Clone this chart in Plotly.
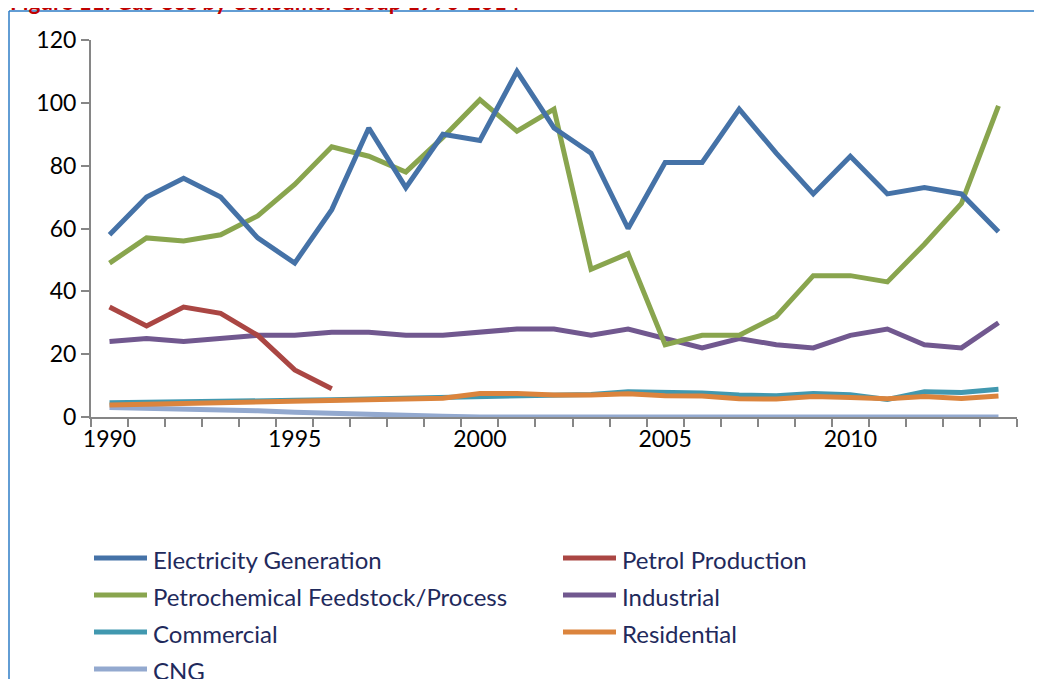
import plotly.graph_objects as go

years = list(range(1990, 2015))
electricity = [58, 70, 76, 70, 57, 49, 66, 92, 73, 90, 88, 110, 92, 84, 60, 81, 81, 98, 84, 71, 83, 71, 73, 71, 59]
petrol = [35, 29, 35, 33, 26, 15, 9]
petrochem = [49, 57, 56, 58, 64, 74, 86, 83, 78, 89, 101, 91, 98, 47, 52, 23, 26, 26, 32, 45, 45, 43, 55, 68, 99]
industrial = [24, 25, 24, 25, 26, 26, 27, 27, 26, 26, 27, 28, 28, 26, 28, 25, 22, 25, 23, 22, 26, 28, 23, 22, 30]
commercial = [4.5, 4.6, 4.7, 4.9, 5.1, 5.3, 5.5, 5.7, 5.9, 6.1, 6.3, 6.5, 6.8, 7.2, 8.0, 7.8, 7.6, 7.0, 6.8, 7.5, 7.1, 5.6, 8.0, 7.8, 8.8]
residential = [3.8, 4.0, 4.2, 4.4, 4.6, 4.8, 5.0, 5.2, 5.5, 6.0, 7.5, 7.5, 7.0, 7.0, 7.4, 6.8, 6.7, 5.8, 5.7, 6.5, 6.2, 5.8, 6.5, 5.9, 6.7]
cng = [3.0, 2.8, 2.6, 2.3, 2.0, 1.5, 1.1, 0.9, 0.5, 0.2, 0, 0, 0, 0, 0, 0, 0, 0, 0, 0, 0, 0, 0, 0, 0]

series = [
    ("Electricity Generation", electricity, "#4572A7"),
    ("Petrol Production", petrol, "#AA4643"),
    ("Petrochemical Feedstock/Process", petrochem, "#89A54E"),
    ("Industrial", industrial, "#71588F"),
    ("Commercial", commercial, "#4198AF"),
    ("Residential", residential, "#DB843D"),
    ("CNG", cng, "#93A9CF"),
]
draw_order = [6, 4, 5, 3, 1, 2, 0]

fig = go.Figure()
for i in draw_order:
    name, vals, col = series[i]
    fig.add_trace(go.Scatter(x=years[:len(vals)], y=vals, mode="lines", name=name,
                             line=dict(color=col, width=5), showlegend=False))

OFF = 8  # page body margin
W, H = 1042 - OFF, 679 - OFF
# plot area in window pixels
L, R, T, B = 91, 1017, 40, 417
pw, ph = R - L, B - T

def px(x):
    return (x - L) / pw

def py(y):
    return (B - y) / ph

shapes = []
annotations = []
# border
shapes.append(dict(type="line", xref="paper", yref="paper", x0=px(9), y0=py(11), x1=px(9), y1=py(700),
                   line=dict(color="#2E7CC6", width=1.5)))
shapes.append(dict(type="line", xref="paper", yref="paper", x0=px(9), y0=py(11), x1=px(1070), y1=py(11),
                   line=dict(color="#2E7CC6", width=1.5)))
# title (cut off at top, as in the reference)
annotations.append(dict(text="<b>Figure 11: Gas Use by Consumer Group 1990-2014</b>", xref="paper", yref="paper",
                        x=px(8), y=py(1), xanchor="left", yanchor="middle", showarrow=False,
                        font=dict(family="Lato", size=22.5, color="#C00000")))
# legend
leg_pos = [(92, 558), (561, 558), (92, 595), (561, 595), (92, 632), (561, 632), (92, 669)]
for (name, vals, col), (lx, ly) in zip(series, leg_pos):
    shapes.append(dict(type="line", xref="paper", yref="paper", x0=px(lx + 2), x1=px(lx + 55), y0=py(ly), y1=py(ly),
                       line=dict(color=col, width=5)))
    annotations.append(dict(text=name, xref="paper", yref="paper", x=px(lx + 59), y=py(ly + 1),
                            xanchor="left", yanchor="middle", showarrow=False,
                            font=dict(family="Lato", size=24, color="#1F2A5C")))

fig.update_layout(
    width=W, height=H,
    margin=dict(l=L - OFF, r=W - (R - OFF), t=T - OFF, b=H - (B - OFF)),
    paper_bgcolor="white", plot_bgcolor="white",
    shapes=shapes, annotations=annotations,
    font=dict(family="Lato", size=23, color="black"),
    xaxis=dict(range=[1989.5, 2014.5], tickvals=[1990, 1995, 2000, 2005, 2010], ticks="",
               showline=True, linecolor="#868686", linewidth=2, showgrid=False, zeroline=False,
               tickfont=dict(size=23, color="black"),
               minor=dict(tick0=1989.5, dtick=1, ticks="outside", ticklen=8, tickcolor="#868686", tickwidth=2,
                          showgrid=False)),
    yaxis=dict(range=[0, 120], tickvals=[0, 20, 40, 60, 80, 100, 120], ticks="outside", ticklen=8,
               tickcolor="#868686", tickwidth=2, showline=True, linecolor="#868686", linewidth=2,
               showgrid=False, zeroline=False, tickfont=dict(size=23, color="black")),
)

fig.write_html("out.html")
